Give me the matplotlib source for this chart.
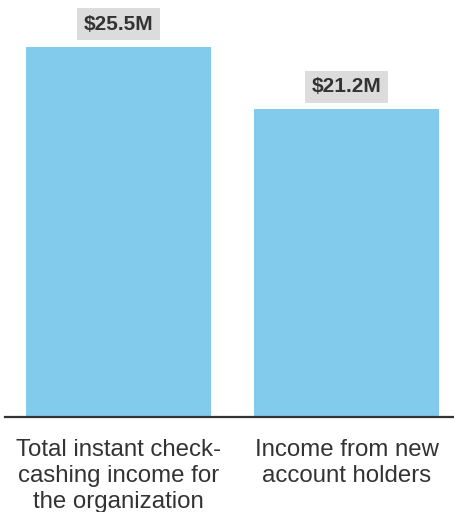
import matplotlib.pyplot as plt

categories = ["Total instant check-\ncashing income for\nthe organization",
              "Income from new\naccount holders"]
values = [25.5, 21.2]
value_labels = ["$25.5M", "$21.2M"]

plt.rcParams['font.family'] = ['Liberation Sans', 'DejaVu Sans']

fig = plt.figure(figsize=(4.54, 5.12), dpi=100)
ax = fig.add_axes([5 / 454, 95 / 512, 449 / 454, 417 / 512])

x = [0, 1]
ax.bar(x, values, width=0.811, color="#82cbec")

for xi, v, lab in zip(x, values, value_labels):
    ax.annotate(lab, (xi, v), xytext=(0, 9.5), textcoords="offset points",
                ha="center", va="bottom", fontsize=15, fontweight="bold",
                color="#333333",
                bbox=dict(boxstyle="square,pad=0.32", fc="#dcdcdc", ec="none"))

ax.set_xlim(-0.498, 1.471)
ax.set_ylim(0, 28.74)
ax.set_xticks(x)
ax.set_xticklabels(categories, fontsize=17.3, color="#333333", linespacing=1.24)
ax.tick_params(axis="x", length=0, pad=16)
ax.set_yticks([])
for s in ["top", "right", "left"]:
    ax.spines[s].set_visible(False)
ax.spines["bottom"].set_color("#333333")
ax.spines["bottom"].set_linewidth(1.6)

fig.savefig("out.png", dpi=100)
